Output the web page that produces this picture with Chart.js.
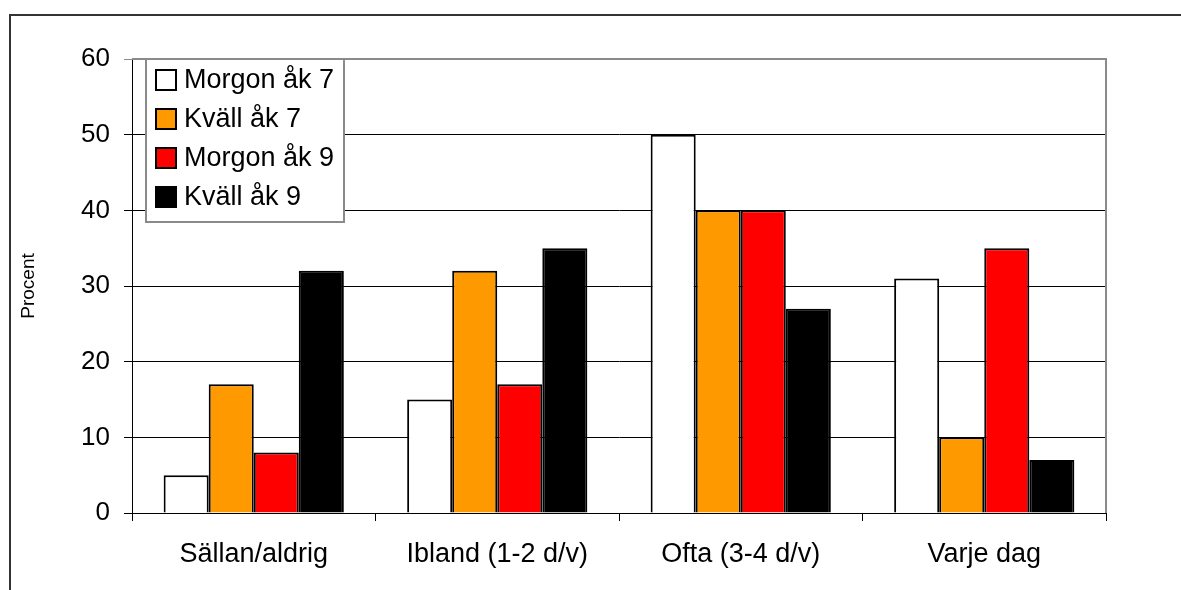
<!DOCTYPE html>
<html lang="sv">
<head>
<meta charset="utf-8">
<title>Procent – morgon/kväll åk 7 och åk 9</title>
<script src="https://cdn.jsdelivr.net/npm/chart.js@4/dist/chart.umd.min.js"></script>
<style>
  html, body { margin: 0; padding: 0; background: #fff; overflow: hidden; }
  #wrap { position: relative; width: 1181px; height: 590px; }
  #frame { position: absolute; left: 9px; top: 14px; width: 1300px; height: 700px;
           border: 2px solid #333; box-sizing: border-box; }
  canvas { position: absolute; left: 0; top: 0; }
</style>
</head>
<body>
<div id="wrap">
  <div id="frame"></div>
  <canvas id="chart" width="1181" height="590"></canvas>
</div>
<script>
(function () {
  'use strict';

  // kategorier och serier (procent)
  const categories = ['Sällan/aldrig', 'Ibland (1-2 d/v)', 'Ofta (3-4 d/v)', 'Varje dag'];
  const seriesNames = ['Morgon åk 7', 'Kväll åk 7', 'Morgon åk 9', 'Kväll åk 9'];
  const morgonAk7 = [5, 15, 50, 31];
  const kvallAk7 = [17, 32, 40, 10];
  const morgonAk9 = [8, 17, 40, 35];
  const kvallAk9 = [32, 35, 27, 7];
  const yTicks = [0, 10, 20, 30, 40, 50, 60];

  const colors = ['#FFFFFF', '#FF9900', '#FF0000', '#000000'];
  const FONT = '"Liberation Sans", Arial, sans-serif';

  const values = [morgonAk7, kvallAk7, morgonAk9, kvallAk9];
  const datasets = seriesNames.map((name, i) => ({
    label: name,
    data: values[i],
    backgroundColor: colors[i],
    borderColor: '#000',
    borderWidth: 2,
    borderSkipped: 'bottom',
    barPercentage: 1,
    categoryPercentage: 0.74,
  }));

  // grå ram runt plottytan (Excel-stil)
  const plotFrame = {
    id: 'plotFrame',
    beforeDatasetsDraw(chart) {
      const { ctx, chartArea: a } = chart;
      ctx.save();
      ctx.strokeStyle = '#8a8a8a';
      ctx.lineWidth = 2;
      ctx.beginPath();
      ctx.moveTo(a.left, a.top);
      ctx.lineTo(a.right, a.top);
      ctx.lineTo(a.right, a.bottom);
      ctx.stroke();
      ctx.restore();
    },
  };

  // förklaring inne i plottytan, uppe till vänster
  const boxLegend = {
    id: 'boxLegend',
    afterDraw(chart) {
      const { ctx } = chart;
      const x = 146, y = 59, w = 198, h = 163;
      ctx.save();
      ctx.fillStyle = '#fff';
      ctx.fillRect(x, y, w, h);
      ctx.strokeStyle = '#8a8a8a';
      ctx.lineWidth = 2;
      ctx.strokeRect(x, y, w, h);
      ctx.font = '27px ' + FONT;
      ctx.textBaseline = 'middle';
      chart.data.datasets.forEach((ds, i) => {
        const cy = y + 21 + i * 39;
        ctx.fillStyle = ds.backgroundColor;
        ctx.fillRect(156, cy - 10, 20, 20);
        ctx.strokeStyle = '#000';
        ctx.lineWidth = 2;
        ctx.strokeRect(156, cy - 10, 20, 20);
        ctx.fillStyle = '#000';
        ctx.fillText(ds.label, 184, cy + 1);
      });
      ctx.restore();
    },
  };

  new Chart(document.getElementById('chart'), {
    type: 'bar',
    data: { labels: categories, datasets },
    options: {
      responsive: false,
      animation: false,
      layout: { padding: { top: 59, right: 75, left: 0, bottom: 0 } },
      plugins: { legend: { display: false }, tooltip: { enabled: false } },
      scales: {
        x: {
          afterFit(s) { s.height = 77; },
          grid: {
            display: true, drawOnChartArea: false, drawTicks: true,
            tickLength: 8, color: '#000', lineWidth: 1,
          },
          border: { display: true, color: '#000', width: 1 },
          ticks: { color: '#000', font: { family: FONT, size: 27 }, padding: 17 },
        },
        y: {
          min: 0, max: 60,
          afterFit(s) { s.width = 132; },
          afterBuildTicks(s) { s.ticks = yTicks.map(v => ({ value: v })); },
          grid: {
            color: ctx => (ctx.tick && ctx.tick.value === 60 ? '#8a8a8a' : '#000'),
            lineWidth: 1, tickLength: 8,
          },
          border: { display: true, color: '#000', width: 1 },
          ticks: { color: '#000', font: { family: FONT, size: 26 }, padding: 14 },
          title: {
            display: true, text: 'Procent', color: '#000',
            font: { family: FONT, size: 19 }, padding: { top: 17, bottom: 0 },
          },
        },
      },
    },
    plugins: [plotFrame, boxLegend],
  });
})();
</script>
</body>
</html>
